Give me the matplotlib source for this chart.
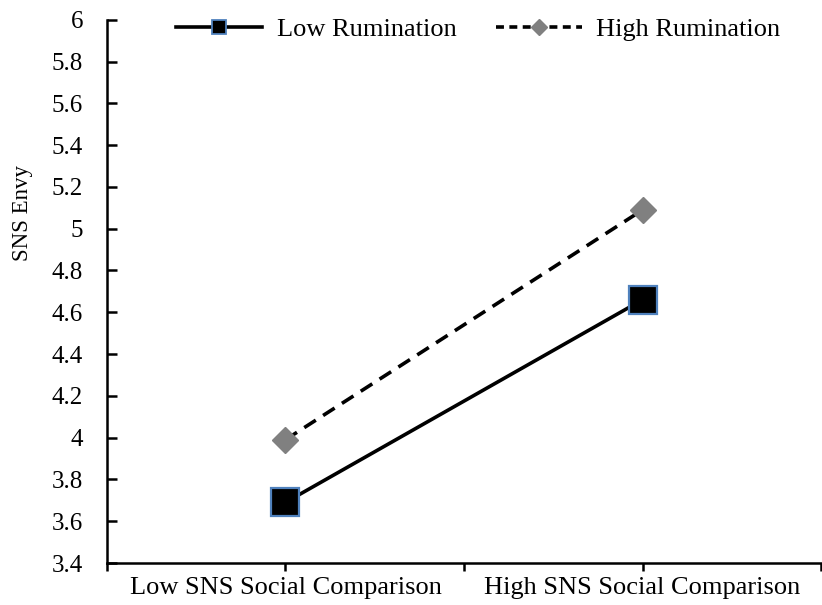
import matplotlib
matplotlib.use("Agg")
import matplotlib.pyplot as plt
from matplotlib.ticker import MultipleLocator, FixedLocator, FuncFormatter
from matplotlib.lines import Line2D

categories = ["Low SNS Social Comparison", "High SNS Social Comparison"]
low_rumination = [3.69, 4.66]
high_rumination = [3.99, 5.09]
series_names = ["Low Rumination", "High Rumination"]

plt.rcParams['font.family'] = ['Liberation Serif', 'DejaVu Serif']

fig = plt.figure(figsize=(8.22, 6.05), dpi=100)
ax = fig.add_axes([0.130, 0.0694, 0.869, 0.898])

x = list(range(len(categories)))
ax.plot(x, low_rumination, color='black', lw=2.6, marker='s', markersize=20,
        markerfacecolor='black', markeredgecolor='#4F81BD', markeredgewidth=1.6,
        label=series_names[0], zorder=3)
ax.plot(x, high_rumination, color='black', lw=2.6, ls=(0, (3.8, 2.4)), marker='D', markersize=13,
        markerfacecolor='#808080', markeredgecolor='#808080',
        label=series_names[1], zorder=3)

ax.set_xlim(-0.5, len(categories) - 0.5)
ax.set_ylim(3.4, 6.0)
ax.yaxis.set_major_locator(MultipleLocator(0.2))
ax.yaxis.set_major_formatter(FuncFormatter(lambda v, p: f"{round(v, 1):g}"))
ax.set_xticks(x)
ax.set_xticklabels(categories)
ax.xaxis.set_minor_locator(FixedLocator([-0.5, 0.5, 1.5]))
ax.tick_params(axis='x', which='both', direction='out', length=6, width=1.8, labelsize=19, pad=4)
ax.tick_params(axis='y', direction='in', length=7, width=1.8, labelsize=18, pad=17)
for s in ['top', 'right']:
    ax.spines[s].set_visible(False)
for s in ['left', 'bottom']:
    ax.spines[s].set_linewidth(1.8)
ax.set_ylabel("SNS Envy", fontsize=16.5)
ax.yaxis.set_label_coords(-0.103, 0.644)

handles = [
    Line2D([], [], color='black', lw=2.6, marker='s', markersize=10, markerfacecolor='black',
           markeredgecolor='#4F81BD', markeredgewidth=1.3),
    Line2D([], [], color='black', lw=2.6, ls=(0, (2.2, 1.5)), marker='D', markersize=8,
           markerfacecolor='#808080', markeredgecolor='#808080'),
]
leg = fig.legend(handles, series_names, loc='center', bbox_to_anchor=(0.582, 0.951), ncol=2,
                 frameon=False, fontsize=19, handlelength=3.25, columnspacing=1.5, handletextpad=0.55)

fig.savefig("out.png", dpi=100)
